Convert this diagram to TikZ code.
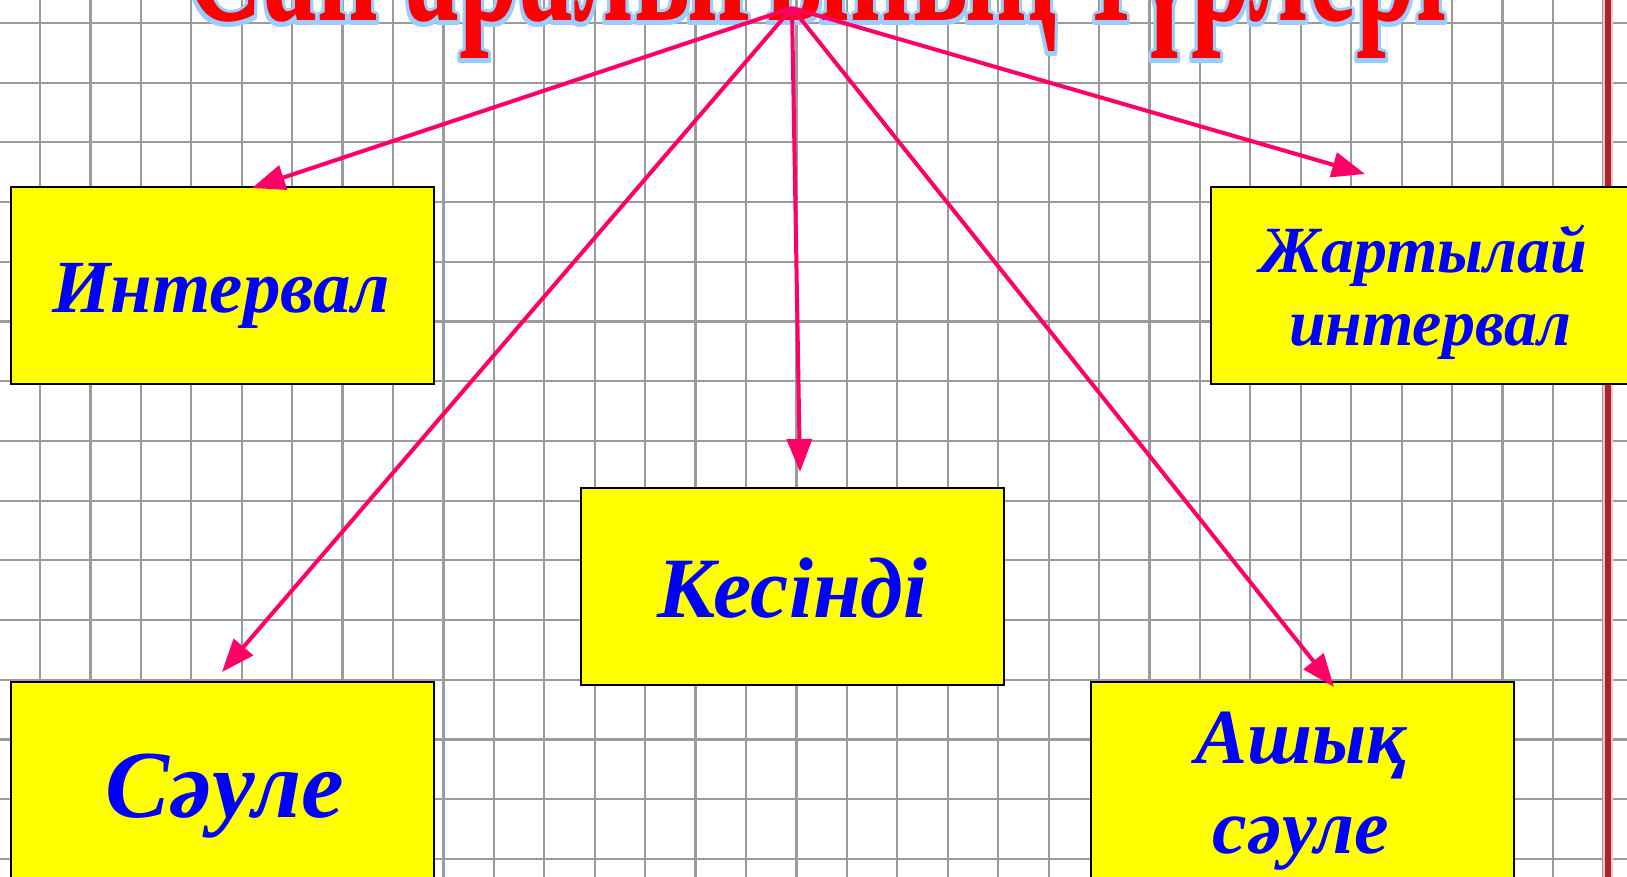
\documentclass[tikz,border=0pt]{standalone}
\usepackage{fontspec}
\setmainfont{Liberation Serif}
\usetikzlibrary{arrows.meta}
\definecolor{boxyellow}{RGB}{255,255,0}
\definecolor{labelblue}{RGB}{0,0,255}
\definecolor{arrowpink}{RGB}{255,0,102}
\definecolor{titlered}{RGB}{255,0,0}
\definecolor{titleedge}{RGB}{153,204,255}
\definecolor{marginred}{RGB}{176,34,40}
\definecolor{gridgray}{RGB}{155,155,155}
% heading set tall and narrow
\newcommand\headingtext{\resizebox{630pt}{62pt}{\bfseries Сан аралығының түрлері}}
\begin{document}
\begin{tikzpicture}[x=0.5pt,y=-0.5pt,
  gridline/.style={draw=gridgray, line width=1.1pt},
  box/.style={draw=black, line width=1pt, fill=boxyellow, minimum width=211.5pt, minimum height=98.5pt, inner sep=0pt},
  lbl/.style={text=labelblue, anchor=base, inner sep=0pt, align=center},
  link/.style={draw=arrowpink, line width=2pt, -{Triangle[length=16.5pt,width=12.5pt]}},
  headpart/.style={anchor=base, inner sep=0pt}]
\useasboundingbox (0,0) rectangle (1627,877);
\clip (0,0) rectangle (1627,877);
\fill[white] (0,0) rectangle (1627,877);
% squared paper
\foreach \i in {0,...,31} \draw[gridline] ({40+50.43*\i},0) -- ({40+50.43*\i},877);
\foreach \j in {0,...,14} \draw[gridline] (0,{23+59.7*\j}) -- (1627,{23+59.7*\j});
% margin rule
\draw[marginred!25, line width=5pt] (1608,0) -- (1608,877);
\draw[marginred, line width=3pt] (1608,0) -- (1608,877);
% heading: pale blue rim, red face
\foreach \dx/\dy [count=\k] in {-3/0,3/0,0/-3,0/3,-2/-2,2/-2,-2/2,2/2,0/5,2/5,-2/5,3/4,-3/4}
  \node[headpart, text=titleedge] (rim\k) at ({816+\dx},{21+\dy}) {\headingtext};
\node[headpart, text=titlered] (heading) at (816,21) {\headingtext};
% boxes
\node[box] (int) at (222.5,285.5) {};
\node[box] (half) at (1422.5,285.5) {};
\node[box] (seg) at (792.5,586) {};
\node[box] (ray) at (222.5,780.5) {};
\node[box] (oray) at (1302.5,780.5) {};
% labels (base = last line)
\node[lbl, font=\fontsize{37.5}{44}\selectfont\bfseries\itshape] (intlbl) at (221,313) {Интервал};
\node[lbl, font=\fontsize{33}{36.5}\selectfont\bfseries\itshape] (halflbl) at (1424,345) {Жартылай\\\hspace*{6pt}интервал};
\node[lbl, font=\fontsize{43}{50}\selectfont\bfseries\itshape] (seglbl) at (792.5,617) {Кесінді};
\node[lbl, font=\fontsize{48}{56}\selectfont\bfseries\itshape] (raylbl) at (225,817) {Сәуле};
\node[lbl, font=\fontsize{39}{45}\selectfont\bfseries\itshape] (oraylbl) at (1301,853) {Ашық\\сәуле};
% arrows from the heading
\coordinate (apex) at (792,8);
\coordinate (intTip) at (252,188);
\coordinate (halfTip) at (1365,174);
\coordinate (segTip) at (800,472);
\coordinate (rayTip) at (222,672);
\coordinate (orayTip) at (1334,687);
\draw[link] (apex) -- (intTip);
\draw[link] (apex) -- (halfTip);
\draw[link] (apex) -- (segTip);
\draw[link] (apex) -- (rayTip);
\draw[link] (apex) -- (orayTip);
\end{tikzpicture}
\end{document}
